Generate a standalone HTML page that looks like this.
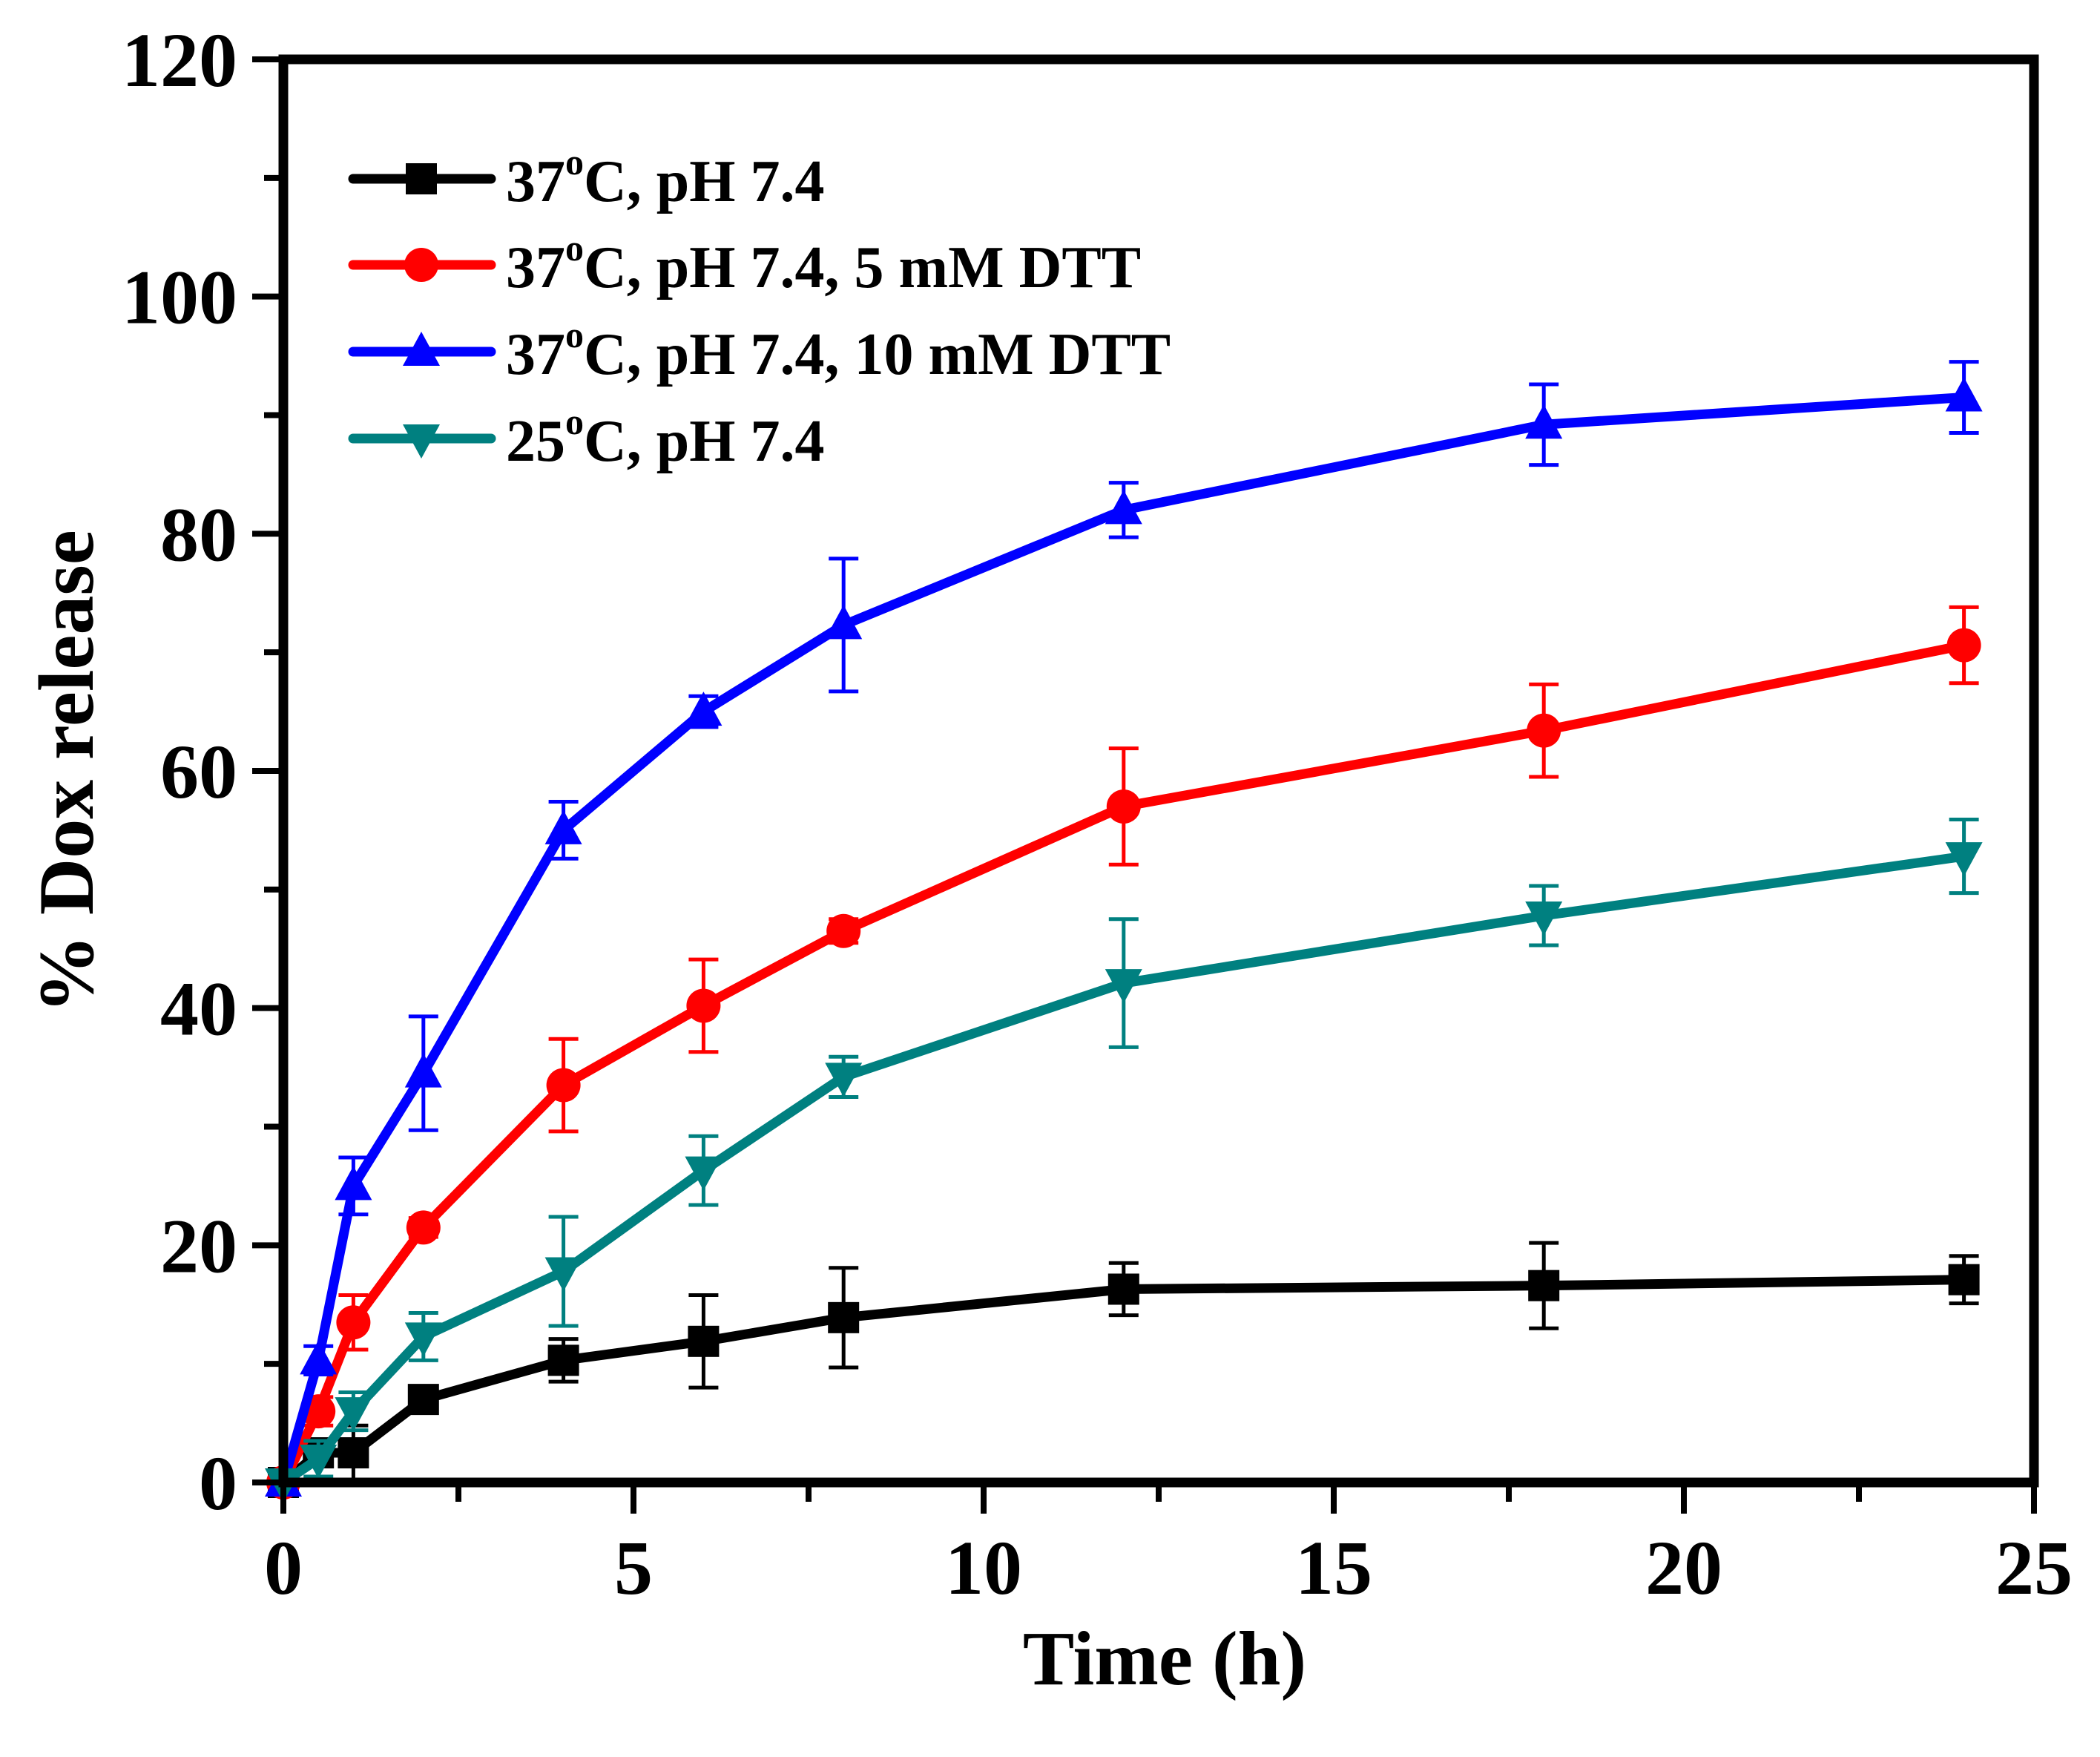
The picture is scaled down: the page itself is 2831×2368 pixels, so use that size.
<!DOCTYPE html>
<html><head><meta charset="utf-8"><style>
html,body{margin:0;padding:0;background:#fff}
svg{display:block;font-family:"Liberation Serif",serif;font-weight:bold}
</style></head><body>
<svg id="chart" width="2831" height="2368" viewBox="0 0 2831 2368" xmlns="http://www.w3.org/2000/svg">
<g id="plot"></g>
</svg>
<script>
const times = [0, 0.5, 1, 2, 4, 6, 8, 12, 18, 24];
const black = [0, 2.5, 2.5, 7, 10.3, 11.9, 13.9, 16.3, 16.6, 17.1];
const blackErr = [0, 1, 2.3, 0.5, 1.8, 3.9, 4.2, 2.2, 3.6, 2];
const red = [0, 6, 13.5, 21.5, 33.5, 40.2, 46.5, 57, 63.4, 70.6];
const redErr = [0, 1.2, 2.3, 0.8, 3.9, 3.9, 1, 4.9, 3.9, 3.2];
const blue = [0, 10.3, 25, 34.5, 55, 65, 72.3, 82, 89.2, 91.5];
const blueErr = [0, 1.2, 2.4, 4.8, 2.4, 1.3, 5.6, 2.3, 3.4, 3];
const teal = [0, 2, 6, 12.3, 17.8, 26.3, 34.2, 42.1, 47.8, 52.8];
const tealErr = [0, 1.5, 1.6, 2, 4.6, 2.9, 1.7, 5.4, 2.5, 3.1];
const xTicks = [0, 5, 10, 15, 20, 25];
const yTicks = [0, 20, 40, 60, 80, 100, 120];
const legendLabels = ["37", "37", "37", "25"];
const legendRest = [", pH 7.4", ", pH 7.4, 5 mM DTT", ", pH 7.4, 10 mM DTT", ", pH 7.4"];

const L=382,R=2742,T=80,B=1998;
const sx=v=>L+(v/25)*(R-L);
const sy=v=>B-(v/120)*(B-T);
const NS="http://www.w3.org/2000/svg";
const g=document.getElementById('plot');
function el(tag,attrs,parent){const e=document.createElementNS(NS,tag);for(const k in attrs)e.setAttribute(k,attrs[k]);(parent||g).appendChild(e);return e;}

const series=[
 {name:'black',vals:black,err:blackErr,color:'#000000',marker:'square'},
 {name:'red',vals:red,err:redErr,color:'#ff0000',marker:'circle'},
 {name:'blue',vals:blue,err:blueErr,color:'#0000ff',marker:'up'},
 {name:'teal',vals:teal,err:tealErr,color:'#008080',marker:'down'}
];
function marker(type,cx,cy,color,parent){
  let m;
  if(type==='square') m=el('rect',{x:cx-21,y:cy-21,width:42,height:42,fill:color},parent);
  else if(type==='circle') m=el('circle',{cx:cx,cy:cy,r:23,fill:color},parent);
  else if(type==='up') m=el('polygon',{points:`${cx},${cy-27} ${cx-25},${cy+19} ${cx+25},${cy+19}`,fill:color},parent);
  else m=el('polygon',{points:`${cx},${cy+27} ${cx-25},${cy-19} ${cx+25},${cy-19}`,fill:color},parent);
  return m;
}
series.forEach(s=>{
  const sg=el('g',{});
  
  
  times.forEach((t,i)=>{
    if(s.err[i]<=0) return;
    const x=sx(t),y1=sy(s.vals[i]+s.err[i]),y2=sy(s.vals[i]-s.err[i]);
    const eb=el('path',{d:`M${x},${y1}V${y2}M${x-20},${y1}H${x+20}M${x-20},${y2}H${x+20}`,stroke:s.color,'stroke-width':5,fill:'none'},sg);
    
    
  });
  const ln=el('polyline',{points:times.map((t,i)=>sx(t)+','+sy(s.vals[i])).join(' '),fill:'none',stroke:s.color,'stroke-width':13,'stroke-linejoin':'round'},sg);
  
  
  times.forEach((t,i)=>{
    const m=marker(s.marker,sx(t),sy(s.vals[i]),s.color,sg);
    
    
  });
});
const fr=el('rect',{x:L,y:T,width:R-L,height:B-T,fill:'none',stroke:'#000','stroke-width':13});


for(let v=0;v<=25;v+=2.5){
  const major=v%5===0;
  const t=el('line',{x1:sx(v),x2:sx(v),y1:B,y2:B+(major?42:26),stroke:'#000','stroke-width':8});
  
  
}
xTicks.forEach(v=>{
  const t=el('text',{x:sx(v),y:B+150,'text-anchor':'middle','font-size':104});
  t.textContent=v;
  
  
});
for(let v=0;v<=120;v+=10){
  const major=v%20===0;
  const t=el('line',{x1:L-(major?42:26),x2:L,y1:sy(v),y2:sy(v),stroke:'#000','stroke-width':8});
  
  
}
yTicks.forEach(v=>{
  const t=el('text',{x:320,y:sy(v)+36,'text-anchor':'end','font-size':104});
  t.textContent=v;
  
  
});
const xt=el('text',{x:1570,y:2270,'text-anchor':'middle','font-size':104});
xt.textContent='Time (h)';


const yt=el('text',{x:125,y:1040,'text-anchor':'middle','font-size':106,transform:'rotate(-90 125 1040)'});
yt.textContent='% Dox release';


const rows=[241,357,474,591];
series.forEach((s,i)=>{
  const lg=el('g',{});
  
  
  el('line',{x1:476,x2:662,y1:rows[i],y2:rows[i],stroke:s.color,'stroke-width':13,'stroke-linecap':'round'},lg);
  marker(s.marker,568,rows[i],s.color,lg);
  const tx=el('text',{x:682,y:rows[i]+30,'font-size':80},lg);
  tx.appendChild(document.createTextNode(legendLabels[i]));
  const sup=el('tspan',{'font-size':50,dy:-36},tx);sup.textContent='o';
  const rest=el('tspan',{dy:36},tx);rest.textContent='C'+legendRest[i];
});
</script>
</body></html>
